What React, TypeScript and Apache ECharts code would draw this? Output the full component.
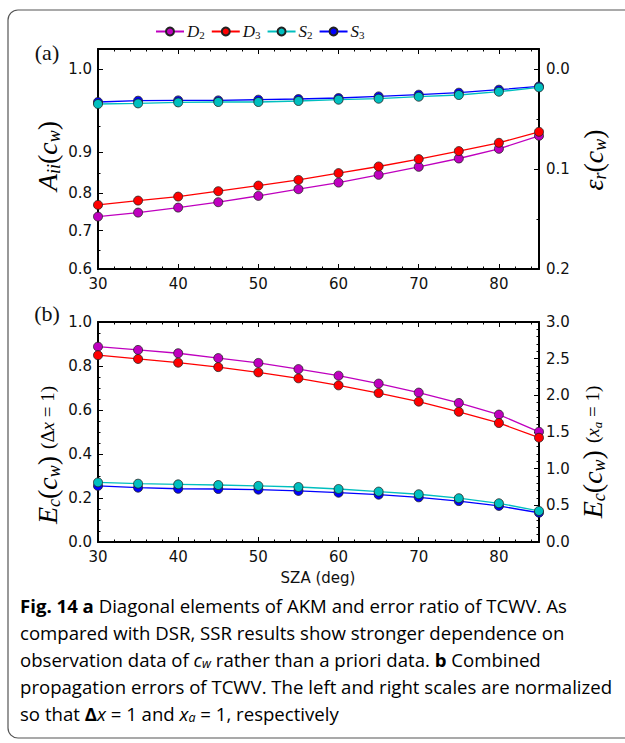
import React, { useEffect, useRef } from "react";
import * as echarts from "echarts";

// Solar zenith angle (deg)
const sza = [30, 35, 40, 45, 50, 55, 60, 65, 70, 75, 80, 85];

// (a) error ratio eps_r(c_w), read on the right-hand (linear) scale
const epsD2 = [0.1476, 0.1436, 0.1386, 0.1332, 0.1269, 0.1202, 0.1136, 0.1058, 0.0978, 0.0895, 0.0798, 0.0668];
const epsD3 = [0.1359, 0.1316, 0.1276, 0.1222, 0.1166, 0.1109, 0.1041, 0.0975, 0.0901, 0.0821, 0.0738, 0.0628];
const epsS2 = [0.035, 0.0344, 0.0334, 0.033, 0.033, 0.032, 0.0307, 0.0297, 0.0277, 0.026, 0.0227, 0.0184];
const epsS3 = [0.033, 0.0317, 0.0314, 0.0314, 0.0307, 0.03, 0.029, 0.0274, 0.0257, 0.0237, 0.0207, 0.0174];

// (b) combined propagation error E_c(c_w), left scale (Delta x = 1)
const ecD2 = [0.888, 0.873, 0.858, 0.836, 0.814, 0.786, 0.756, 0.72, 0.679, 0.632, 0.579, 0.501];
const ecD3 = [0.849, 0.832, 0.815, 0.795, 0.771, 0.744, 0.712, 0.677, 0.638, 0.592, 0.541, 0.474];
const ecS2 = [0.271, 0.265, 0.262, 0.259, 0.255, 0.25, 0.241, 0.229, 0.217, 0.199, 0.176, 0.141];
const ecS3 = [0.255, 0.247, 0.242, 0.241, 0.238, 0.232, 0.224, 0.215, 0.203, 0.186, 0.164, 0.133];

// (a) left axis A_ii(c_w): tick labels and where they sit on the eps_r scale
const aTickLabels = ["1.0", "0.9", "0.8", "0.7", "0.6"];
const aTickEps = [0, 0.083, 0.124, 0.1615, 0.2];
const aMinorEps = [0.0575, 0.1045, 0.1817];
const epsTicks = [0, 0.1, 0.2];
const epsMinor = [0.05, 0.15];

const seriesNames = ["D2", "D3", "S2", "S3"];
const colors: Record<string, string> = { D2: "#bf00bf", D3: "#ff0000", S2: "#00bfbf", S3: "#0000ff" };

const TICK_FONT = { fontFamily: "DejaVu Sans", fontSize: 15, color: "#111" };
const AX_LINE = { show: true, onZero: false, lineStyle: { color: "#000", width: 2 } };
const NO_LINE = { show: false, onZero: false };

function xAxes(grid: number) {
  const base = { type: "value", gridIndex: grid, min: 30, max: 85, splitLine: { show: false } };
  return [
    {
      ...base, position: "bottom", interval: 10, axisLine: AX_LINE,
      axisTick: { show: true, inside: true, length: 5, lineStyle: { color: "#000", width: 1 } },
      axisLabel: { ...TICK_FONT, margin: 7, showMaxLabel: false, showMinLabel: true },
    },
    {
      ...base, position: "bottom", interval: 2, axisLine: NO_LINE,
      axisTick: { show: true, inside: true, length: 2.5, lineStyle: { color: "#000", width: 1 } },
      axisLabel: { show: false },
    },
    {
      ...base, position: "top", interval: 10, axisLine: AX_LINE,
      axisTick: { show: true, inside: true, length: 5, lineStyle: { color: "#000", width: 1 } },
      axisLabel: { show: false },
    },
    {
      ...base, position: "top", interval: 2, axisLine: NO_LINE,
      axisTick: { show: true, inside: true, length: 2.5, lineStyle: { color: "#000", width: 1 } },
      axisLabel: { show: false },
    },
  ];
}

export default function App() {
  const ref = useRef<HTMLDivElement>(null);
  useEffect(() => {
    if (!ref.current) return;
    const chart = echarts.init(ref.current, null, { renderer: "svg" });

    const tickStyle = { color: "#000", width: 1 };
    const yAxis: any[] = [
      // grid 0 (a) : left A_ii labels on eps scale
      {
        type: "value", gridIndex: 0, position: "left", min: -0.02, max: 0.2, inverse: true,
        splitLine: { show: false }, axisLine: AX_LINE,
        axisTick: { show: true, inside: true, length: 5, lineStyle: tickStyle, customValues: aTickEps },
        axisLabel: {
          ...TICK_FONT, margin: 6, customValues: aTickEps,
          formatter: (v: number) => {
            let best = 0;
            aTickEps.forEach((e, i) => { if (Math.abs(e - v) < Math.abs(aTickEps[best] - v)) best = i; });
            return aTickLabels[best];
          },
        },
      },
      {
        type: "value", gridIndex: 0, position: "left", min: -0.02, max: 0.2, inverse: true,
        splitLine: { show: false }, axisLine: NO_LINE,
        axisTick: { show: true, inside: true, length: 2.5, lineStyle: tickStyle, customValues: aMinorEps },
        axisLabel: { show: false },
      },
      {
        type: "value", gridIndex: 0, position: "right", min: -0.02, max: 0.2, inverse: true,
        splitLine: { show: false }, axisLine: AX_LINE,
        axisTick: { show: true, inside: true, length: 5, lineStyle: tickStyle, customValues: epsTicks },
        axisLabel: { ...TICK_FONT, margin: 7, customValues: epsTicks, formatter: (v: number) => v.toFixed(1) },
      },
      {
        type: "value", gridIndex: 0, position: "right", min: -0.02, max: 0.2, inverse: true,
        splitLine: { show: false }, axisLine: NO_LINE,
        axisTick: { show: true, inside: true, length: 2.5, lineStyle: tickStyle, customValues: epsMinor },
        axisLabel: { show: false },
      },
      // grid 1 (b)
      {
        type: "value", gridIndex: 1, position: "left", min: 0, max: 1, interval: 0.2,
        splitLine: { show: false }, axisLine: AX_LINE,
        axisTick: { show: true, inside: true, length: 5, lineStyle: tickStyle },
        minorTick: { show: true, splitNumber: 4, length: 2.5, lineStyle: tickStyle },
        axisLabel: { ...TICK_FONT, margin: 6, formatter: (v: number) => v.toFixed(1) },
      },
      {
        type: "value", gridIndex: 1, position: "right", min: 0, max: 3, interval: 0.5,
        splitLine: { show: false }, axisLine: AX_LINE,
        axisTick: { show: true, inside: true, length: 5, lineStyle: tickStyle },
        minorTick: { show: true, splitNumber: 5, length: 2.5, lineStyle: tickStyle },
        axisLabel: { ...TICK_FONT, margin: 7, formatter: (v: number) => v.toFixed(1) },
      },
    ];

    const mk = (name: string, vals: number[], xi: number, yi: number, z: number) => ({
      type: "line",
      name,
      xAxisIndex: xi,
      yAxisIndex: yi,
      data: sza.map((x, i) => [x, vals[i]]),
      symbol: "circle",
      symbolSize: 9,
      z,
      lineStyle: { color: colors[name], width: 1.3 },
      itemStyle: { color: colors[name], borderColor: "#222", borderWidth: 0.8 },
      emphasis: { disabled: true },
    });

    const series = [
      mk("D2", epsD2, 0, 0, 2),
      mk("D3", epsD3, 0, 0, 3),
      mk("S3", epsS3, 0, 0, 4),
      mk("S2", epsS2, 0, 0, 5),
      mk("D2", ecD2, 4, 4, 2),
      mk("D3", ecD3, 4, 4, 3),
      mk("S3", ecS3, 4, 4, 4),
      mk("S2", ecS2, 4, 4, 5),
    ];

    const serif = "Liberation Serif";
    const mathRich = (big: number, small: number) => ({
      m: { fontFamily: serif, fontStyle: "italic", fontSize: big, color: "#111" },
      p: { fontFamily: serif, fontSize: big, color: "#111" },
      s: { fontFamily: serif, fontStyle: "italic", fontSize: Math.round(big * 0.65), color: "#111", padding: [Math.round(big * 0.45), 0, 0, 0] },
      sm: { fontFamily: serif, fontStyle: "italic", fontSize: small, color: "#111" },
      sp: { fontFamily: serif, fontSize: small, color: "#111" },
      ss: { fontFamily: serif, fontStyle: "italic", fontSize: Math.round(small * 0.7), color: "#111", padding: [Math.round(small * 0.5), 0, 0, 0] },
    });

    const capFont = "Open Sans";
    const capSize = 18.6;
    const capRich = {
      n: { fontFamily: capFont, fontSize: capSize, color: "#222" },
      b: { fontFamily: capFont, fontSize: capSize, fontWeight: "bold", color: "#222" },
      i: { fontFamily: capFont, fontSize: capSize, fontStyle: "italic", color: "#222" },
      is: { fontFamily: capFont, fontSize: 12.5, fontStyle: "italic", color: "#222", padding: [9, 0, 0, 0] },
    };
    const capLines = [
      "{b|Fig. 14 a}{n| Diagonal elements of AKM and error ratio of TCWV. As}",
      "{n|compared with DSR, SSR results show stronger dependence on}",
      "{n|observation data of }{i|c}{is|w}{n| rather than a priori data. }{b|b}{n| Combined}",
      "{n|propagation errors of TCWV. The left and right scales are normalized}",
      "{n|so that }{b|Δ}{i|x}{n| = 1 and }{i|x}{is|a}{n| = 1, respectively}",
    ];
    const capY = [605, 632, 659, 686, 713];

    const graphic: any[] = [
      {
        type: "rect", shape: { x: 8, y: 10, width: 660, height: 728, r: 10 },
        style: { fill: "none", stroke: "#555", lineWidth: 1.2 }, silent: true,
      },
      { type: "text", x: 47, y: 52, style: { text: "(a)", fontFamily: serif, fontSize: 22, fill: "#111", align: "center", verticalAlign: "middle" } },
      { type: "text", x: 47, y: 313, style: { text: "(b)", fontFamily: serif, fontSize: 22, fill: "#111", align: "center", verticalAlign: "middle" } },
      {
        type: "text", x: 47, y: 156, rotation: Math.PI / 2,
        style: { text: "{m|A}{s|ii}{p|(}{m|c}{s|w}{p|)}", rich: mathRich(28, 19), align: "center", verticalAlign: "middle" },
      },
      {
        type: "text", x: 593, y: 160, rotation: Math.PI / 2,
        style: { text: "{m|ε}{s|r}{p|(}{m|c}{s|w}{p|)}", rich: mathRich(28, 19), align: "center", verticalAlign: "middle" },
      },
      {
        type: "text", x: 47, y: 455, rotation: Math.PI / 2,
        style: { text: "{m|E}{s|c}{p|(}{m|c}{s|w}{p|) }{sp|(Δ}{sm|x}{sp| = 1)}", rich: mathRich(28, 19), align: "center", verticalAlign: "middle" },
      },
      {
        type: "text", x: 592, y: 452, rotation: Math.PI / 2,
        style: { text: "{m|E}{s|c}{p|(}{m|c}{s|w}{p|) }{sp|(}{sm|x}{ss|a}{sp| = 1)}", rich: mathRich(28, 19), align: "center", verticalAlign: "middle" },
      },
      {
        type: "text", x: 318, y: 578,
        style: { text: "SZA (deg)", fontFamily: "DejaVu Sans", fontSize: 15, fill: "#111", align: "center", verticalAlign: "middle" },
      },
      ...capLines.map((t, i) => ({
        type: "text", x: 20, y: capY[i],
        style: { text: t, rich: capRich, align: "left", verticalAlign: "middle" },
      })),
    ];

    chart.setOption({
      animation: false,
      backgroundColor: "#fff",
      grid: [
        { left: 98, right: 86, top: 49, height: 220, containLabel: false },
        { left: 98, right: 86, top: 322, height: 220, containLabel: false },
      ],
      legend: {
        data: seriesNames,
        left: 150,
        top: 18,
        itemWidth: 28,
        itemHeight: 10,
        itemGap: 6,
        formatter: (n: string) => `{m|${n[0]}}{s|${n[1]}}`,
        textStyle: {
          padding: [0, 0, 0, -2],
          rich: {
            m: { fontFamily: serif, fontStyle: "italic", fontSize: 17, color: "#111" },
            s: { fontFamily: serif, fontSize: 11, color: "#111", padding: [7, 0, 0, 0] },
          },
        },
      },
      xAxis: [...xAxes(0), ...xAxes(1)],
      yAxis,
      series,
      graphic,
    } as any);
    return () => chart.dispose();
  }, []);
  return <div ref={ref} style={{ position: "fixed", left: 0, top: 0, width: 625, height: 743 }} />;
}
